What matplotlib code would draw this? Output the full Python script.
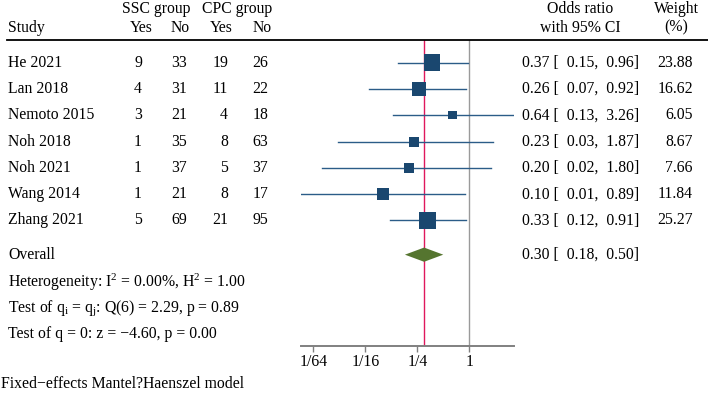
import numpy as np
import matplotlib
matplotlib.use("Agg")
import matplotlib.pyplot as plt
import matplotlib.transforms as mtrans
from matplotlib.lines import Line2D

# study level data
studies = ["He 2021", "Lan 2018", "Nemoto 2015", "Noh 2018", "Noh 2021", "Wang 2014", "Zhang 2021"]
ssc_yes = [9, 4, 3, 1, 1, 1, 5]
ssc_no = [33, 31, 21, 35, 37, 21, 69]
cpc_yes = [19, 11, 4, 8, 5, 8, 21]
cpc_no = [26, 22, 18, 63, 37, 17, 95]
odds = [0.37, 0.26, 0.64, 0.23, 0.20, 0.10, 0.33]
lower = [0.15, 0.07, 0.13, 0.03, 0.02, 0.01, 0.12]
upper = [0.96, 0.92, 3.26, 1.87, 1.80, 0.89, 0.91]
weight = [23.88, 16.62, 6.05, 8.67, 7.66, 11.84, 25.27]

overall_or = 0.30
overall_ci = [0.18, 0.50]

stats_lines = [
    "Heterogeneity: I$^2$ = 0.00%, H$^2$ = 1.00",
    "Test of q$_\\mathrm{i}$ = q$_\\mathrm{j}$: Q(6) = 2.29, p = 0.89",
    "Test of q = 0: z = \u22124.60, p = 0.00",
]
tick_vals = [1 / 64, 1 / 16, 1 / 4, 1]
tick_labels = ["1/64", "1/16", "1/4", "1"]
footer = "Fixed\u2212effects Mantel?Haenszel model"

plt.rcParams["font.family"] = ["Liberation Serif", "DejaVu Serif"]
plt.rcParams["mathtext.fontset"] = "custom"
plt.rcParams["mathtext.rm"] = "Liberation Serif"
plt.rcParams["mathtext.it"] = "Liberation Serif:italic"
FS = 11.3

W, H = 708, 394
fig = plt.figure(figsize=(W / 100, H / 100), dpi=100)

# forest panel: x from 301 to 514 px, y from 40 to 346 px
x0, x1, ytop, ybot = 301, 514, 40, 345.7
ax = fig.add_axes([x0 / W, 1 - ybot / H, (x1 - x0) / W, (ybot - ytop) / H])
ax.set_xscale("log", base=2)
ax.set_xlim(2 ** -6.47, 2 ** 1.72)
ax.set_ylim(10.76, -0.86)

navy = "#1a476f"
line_c = "#2b5c88"

rows = np.arange(len(studies))
for i in rows:
    ax.plot([lower[i], upper[i]], [i, i], color=line_c, lw=1.0, zorder=2)
ax.scatter(odds, rows, marker="s", s=np.array(weight) * 5.9, color=navy, zorder=3, linewidths=0)

ov_y = 7.3
dx = [overall_ci[0], overall_or, overall_ci[1], overall_or]
dy = [ov_y, ov_y - 0.27, ov_y, ov_y + 0.27]
ax.fill(dx, dy, color="#55752f", zorder=3, lw=0)

ax.axvline(overall_or, color="#e0185c", lw=1.0, zorder=1)
ax.axvline(1, color="#9a9a9a", lw=1.0, zorder=1)

for s in ["top", "right", "left"]:
    ax.spines[s].set_visible(False)
ax.spines["bottom"].set_color("#808080")
ax.spines["bottom"].set_linewidth(1.4)
ax.set_yticks([])
ax.set_xticks(tick_vals)
ax.set_xticklabels(tick_labels, fontsize=FS)
ax.xaxis.set_minor_locator(matplotlib.ticker.NullLocator())
ax.tick_params(axis="x", length=4, width=1.0, color="#808080", pad=2)
ax.patch.set_alpha(0)

# text columns: x in figure pixels, y in row units
tr = mtrans.blended_transform_factory(fig.transFigure, ax.transData)


def txt(xpx, y, s, ha="left"):
    fig.text(xpx / W, y, s, transform=tr, ha=ha, va="center", fontsize=FS, clip_on=False)


h1, h2 = -2.02, -1.33
txt(191, h1, "SSC group", "right")
txt(272, h1, "CPC group", "right")
txt(580, h1, "Odds ratio", "center")
txt(699, h1, "Weight", "right")
txt(8, h2, "Study")
txt(153, h2, "Yes", "right")
txt(190, h2, "No", "right")
txt(233, h2, "Yes", "right")
txt(272, h2, "No", "right")
txt(580, h2, "with 95% CI", "center")
txt(676, h2, "(%)", "center")

for i in rows:
    txt(8, i, studies[i])
    txt(142, i, str(ssc_yes[i]), "right")
    txt(187, i, str(ssc_no[i]), "right")
    txt(228, i, str(cpc_yes[i]), "right")
    txt(268, i, str(cpc_no[i]), "right")
    txt(522, i, f"{odds[i]:.2f} [ {lower[i]:5.2f}, {upper[i]:5.2f}]")
    txt(693, i, f"{weight[i]:.2f}", "right")

txt(8, ov_y, "Overall")
txt(522, ov_y, f"{overall_or:.2f} [ {overall_ci[0]:5.2f}, {overall_ci[1]:5.2f}]")
for k, line in enumerate(stats_lines):
    txt(8, 8.36 + k * 0.98, line)

fig.text(1 / W, 1 - 384 / H, footer, ha="left", va="center", fontsize=FS)

fig.add_artist(Line2D([7 / W, 1], [1 - ytop / H, 1 - ytop / H], color="black", lw=1.3))

fig.savefig("out.png", dpi=100)
